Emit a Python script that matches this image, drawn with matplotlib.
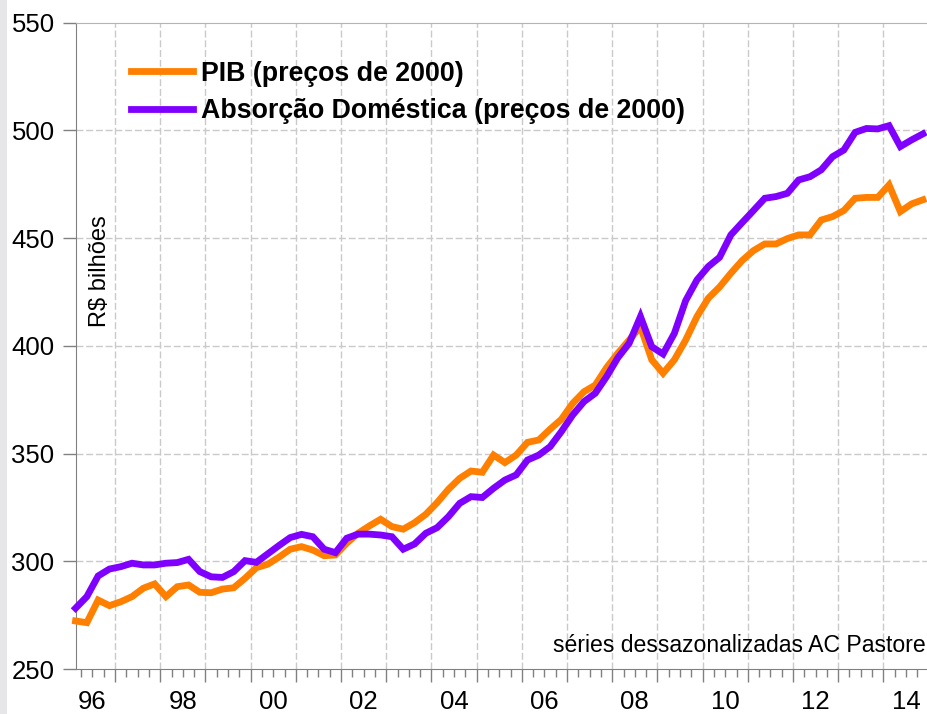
import numpy as np
import matplotlib
matplotlib.use('Agg')
import matplotlib.pyplot as plt
from matplotlib.patches import Rectangle

plt.rcParams['font.family'] = ['Liberation Sans', 'DejaVu Sans']

# quarterly series, 1996Q1 .. 2014Q4 (R$ bilhoes, precos de 2000)
first_year = 1996
pib = [272.3, 271.5, 282.0, 279.4, 281.2, 283.6, 287.5, 289.5,
       283.6, 288.2, 289.0, 285.6, 285.4, 287.1, 287.7, 292.1,
       297.0, 298.6, 301.9, 305.6, 306.8, 305.2, 302.6, 302.9,
       308.4, 313.0, 316.4, 319.5, 316.1, 314.9, 317.9, 321.8,
       327.2, 333.4, 338.5, 341.9, 341.3, 349.3, 345.8, 349.3,
       355.2, 356.3, 361.3, 365.9, 373.3, 378.7, 381.8, 389.9,
       396.6, 402.7, 408.9, 393.5, 387.3, 393.5, 402.7, 413.6,
       422.1, 427.3, 433.7, 439.6, 444.2, 447.3, 447.3, 449.8,
       451.5, 451.5, 458.4, 460.0, 462.8, 468.5, 468.9, 468.9,
       474.7, 462.3, 465.9, 467.8]
absorcao = [278.2, 283.6, 293.2, 296.4, 297.5, 299.1, 298.3, 298.3,
            299.1, 299.4, 300.9, 295.2, 292.8, 292.5, 295.2, 300.3,
            299.5, 303.4, 307.3, 311.0, 312.5, 311.4, 305.6, 304.0,
            310.7, 312.6, 312.6, 312.2, 311.4, 305.6, 308.0, 313.0,
            315.6, 320.7, 326.9, 330.0, 329.6, 333.9, 337.7, 340.1,
            347.0, 349.3, 353.2, 360.2, 367.9, 374.1, 378.0, 385.7,
            394.5, 401.2, 413.6, 399.6, 396.2, 405.8, 421.0, 430.6,
            436.8, 441.1, 451.5, 457.2, 462.8, 468.5, 469.3, 470.8,
            477.0, 478.5, 481.7, 487.8, 490.9, 499.1, 500.9, 500.7,
            502.2, 492.5, 495.6, 498.4]
year_labels = ['96', '98', '00', '02', '04', '06', '08', '10', '12', '14']
label_years = [1996, 1998, 2000, 2002, 2004, 2006, 2008, 2010, 2012, 2014]
y_ticks = [250, 300, 350, 400, 450, 500, 550]

# quarter midpoints in fractional years
t = first_year + (np.arange(len(pib)) + 0.5) / 4.0

fig = plt.figure(figsize=(9.27, 7.14), dpi=100)
fig.patches.append(Rectangle((0, 0), 7 / 927, 1, transform=fig.transFigure,
                             facecolor='#e6e6e9', edgecolor='none', zorder=-1))

ax = fig.add_axes([76 / 927, 45 / 714, 851 / 927, 646.3 / 714])

grid_kw = dict(color='#cacaca', lw=1.0, linestyle=(0, (5, 2)), zorder=0)
for yr in range(1997, 2015):
    ax.axvline(yr, **grid_kw)
for v in y_ticks[1:-1]:
    ax.axhline(v, **grid_kw)

ax.plot(t, pib, color='#ff8000', lw=4.9, solid_joinstyle='miter',
        label='PIB (preços de 2000)', clip_on=False, zorder=3)
ax.plot(t, absorcao, color='#8000ff', lw=4.9, solid_joinstyle='miter',
        label='Absorção Doméstica (preços de 2000)', clip_on=False, zorder=3)

ax.set_xlim(1996.135, 2014.965)
ax.set_ylim(250, 550)

ax.spines['right'].set_visible(False)
for side in ['left', 'bottom']:
    ax.spines[side].set_color('#808080')
ax.spines['top'].set_color('#b4b4b4')

ax.set_yticks(y_ticks)
ax.set_yticklabels([str(v) for v in y_ticks])
ax.tick_params(axis='y', length=9.4, width=1, color='#808080', pad=6,
               labelsize=18.5)
ax.set_xticks(range(1997, 2015))
ax.set_xticks(np.arange(1996.25, 2015, 0.25), minor=True)
ax.set_xticklabels([])
ax.tick_params(axis='x', which='major', length=9.4, width=1, color='#808080')
ax.tick_params(axis='x', which='minor', length=5.5, width=1, color='#808080')

for yr, lab in zip(label_years, year_labels):
    ax.annotate(lab, xy=(yr + 0.5, 0), xycoords=ax.get_xaxis_transform(),
                xytext=(0, -15), textcoords='offset points',
                ha='center', va='top', fontsize=18.5, annotation_clip=False)

ax.legend(loc='upper left', bbox_to_anchor=(0.0646, 0.941), frameon=False,
          borderpad=0, borderaxespad=0, handlelength=2.3, handletextpad=0.33,
          labelspacing=0.42, prop=dict(weight='bold', size=19.3))

ax.text(0.028, 0.615, 'R$ bilhões', transform=ax.transAxes, rotation=90,
        ha='center', va='center', fontsize=17)
ax.text(0.998, 0.036, 'séries dessazonalizadas AC Pastore',
        transform=ax.transAxes, ha='right', va='center', fontsize=16.6)

fig.savefig('out.png', dpi=100)
